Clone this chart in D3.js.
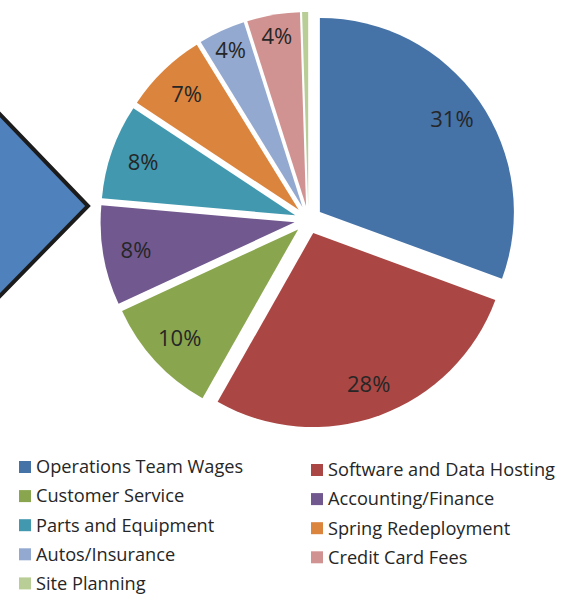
<!DOCTYPE html>
<html>
<head>
<meta charset="utf-8">
<script src="https://cdn.jsdelivr.net/npm/d3@7"></script>
<style>
  html, body { margin: 0; padding: 0; background: #fff; }
  svg { display: block; }
</style>
</head>
<body>
<svg id="chart"></svg>
<script>
// data (percent of total)
var categories = ["Operations Team Wages", "Software and Data Hosting", "Customer Service",
  "Accounting/Finance", "Parts and Equipment", "Spring Redeployment",
  "Autos/Insurance", "Credit Card Fees", "Site Planning"];
var values = [30.6, 27.6, 9.9, 8.3, 7.9, 6.9, 3.9, 4.4, 0.5];
var colors = ["#4572a7", "#aa4643", "#89a54e", "#71588f", "#4198af",
  "#db843d", "#93a9cf", "#d19392", "#b9cd96"];

var width = 567, height = 596;
var svg = d3.select("#chart").attr("width", width).attr("height", height);

// piece of the neighbouring graphic cut off at the left edge
svg.append("path")
  .attr("d", "M-10,104 L88,206 L-10,306 Z")
  .attr("fill", "#4f81bd")
  .attr("stroke", "#1c1c1c")
  .attr("stroke-width", 4)
  .attr("stroke-linejoin", "miter");

var cx = 308.4, cy = 219.9, radius = 194, explode = 14;

var pie = d3.pie().sort(null).value(function(d) { return d; });
var arc = d3.arc().innerRadius(0).outerRadius(radius);
var color = d3.scaleOrdinal().domain(categories).range(colors);

var g = svg.append("g").attr("transform", "translate(" + cx + "," + cy + ")");

var slices = g.selectAll(".slice")
  .data(pie(values))
  .enter().append("g")
  .attr("class", "slice")
  .attr("transform", function(d) {
    var mid = (d.startAngle + d.endAngle) / 2;
    return "translate(" + (explode * Math.sin(mid)) + "," + (-explode * Math.cos(mid)) + ")";
  });

slices.append("path")
  .attr("d", arc)
  .attr("fill", function(d, i) { return color(categories[i]); });

// narrow slices push their label further out, like the original's best fit
function labelR(d) {
  return radius * (d.value < 5 ? 0.89 : 0.83);
}
slices.filter(function(d) { return d.value >= 1; })
  .append("text")
  .attr("x", function(d) { return labelR(d) * Math.sin((d.startAngle + d.endAngle) / 2); })
  .attr("y", function(d) { return -labelR(d) * Math.cos((d.startAngle + d.endAngle) / 2); })
  .attr("dy", "0.35em")
  .attr("text-anchor", "middle")
  .attr("font-family", "'Open Sans', sans-serif")
  .attr("font-size", 22)
  .attr("fill", "#262626")
  .text(function(d) { return Math.round(d.value) + "%"; });

// legend: two columns, filled row by row
var legend = svg.append("g").attr("font-family", "'Open Sans', sans-serif").attr("font-size", 18.2);
var item = legend.selectAll(".item")
  .data(categories)
  .enter().append("g")
  .attr("class", "item")
  .attr("transform", function(d, i) {
    var col = i % 2, row = Math.floor(i / 2);
    var x = col === 0 ? 19 : 311;
    var y = 467 + row * 29.1 + (col === 0 ? 0 : 3);
    return "translate(" + x + "," + y + ")";
  });
item.append("rect")
  .attr("x", 0).attr("y", -6)
  .attr("width", 12).attr("height", 12)
  .attr("fill", function(d) { return color(d); });
item.append("text")
  .attr("x", 17)
  .attr("dy", "0.35em")
  .attr("fill", "#262626")
  .text(function(d) { return d; });
</script>
</body>
</html>
